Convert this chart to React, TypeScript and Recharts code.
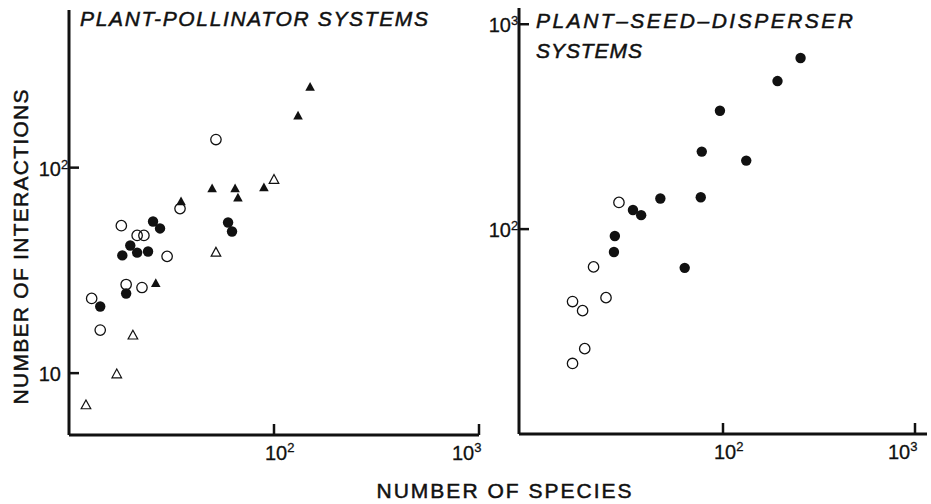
import { FC } from "react";
import { ScatterChart, Scatter, XAxis, YAxis } from "recharts";

// number of species (s) vs number of interactions (i)
const pollFilledCircles = [
  { s: 25.7, i: 54.7 }, { s: 27.8, i: 50.6 }, { s: 59.7, i: 54.1 }, { s: 62.4, i: 48.9 },
  { s: 19.9, i: 41.8 }, { s: 18.2, i: 37.4 }, { s: 21.5, i: 38.6 }, { s: 24.3, i: 39.1 },
  { s: 19.0, i: 24.4 }, { s: 14.2, i: 21.1 },
];
const pollOpenCircles = [
  { s: 52.1, i: 137 }, { s: 34.8, i: 63.2 }, { s: 18.0, i: 52.2 }, { s: 21.5, i: 46.8 },
  { s: 23.2, i: 46.8 }, { s: 30.1, i: 37.0 }, { s: 19.0, i: 27.0 }, { s: 22.7, i: 26.1 },
  { s: 12.9, i: 23.1 }, { s: 14.2, i: 16.2 },
];
const pollFilledTriangles = [
  { s: 150, i: 247 }, { s: 131, i: 179 }, { s: 49.9, i: 79.1 }, { s: 64.6, i: 79.1 },
  { s: 66.7, i: 71.4 }, { s: 89.3, i: 80.0 }, { s: 35.2, i: 68.4 }, { s: 26.5, i: 27.4 },
];
const pollOpenTriangles = [
  { s: 100, i: 87.5 }, { s: 52.1, i: 38.7 }, { s: 20.5, i: 15.3 }, { s: 17.1, i: 9.9 },
  { s: 12.1, i: 7.0 },
];

const dispFilledCircles = [
  { s: 240, i: 684 }, { s: 185, i: 528 }, { s: 96.6, i: 378 }, { s: 78.7, i: 239 },
  { s: 130, i: 216 }, { s: 77.8, i: 143 }, { s: 49.3, i: 141 }, { s: 36.2, i: 124 },
  { s: 39.7, i: 117 }, { s: 29.5, i: 92.5 }, { s: 29.2, i: 77.3 }, { s: 64.9, i: 64.7 },
];
const dispOpenCircles = [
  { s: 30.9, i: 135 }, { s: 23.2, i: 65.4 }, { s: 26.7, i: 46.3 }, { s: 18.3, i: 44.3 },
  { s: 20.5, i: 40.0 }, { s: 21.0, i: 26.1 }, { s: 18.3, i: 22.1 },
];

const xTicks = [100, 1000];
const pollYTicks = [10, 100];
const dispYTicks = [100, 1000];

const FONT = "'Liberation Sans', Arial, sans-serif";
const INK = "#111";

const FilledCircle = (p: any) => <circle cx={p.cx} cy={p.cy} r={5.2} fill={INK} />;
const OpenCircle = (p: any) => (
  <circle cx={p.cx} cy={p.cy} r={5.2} fill="none" stroke={INK} strokeWidth={1.3} />
);
const triPoints = (cx: number, cy: number) =>
  `${cx},${cy - 5} ${cx + 4.8},${cy + 3.8} ${cx - 4.8},${cy + 3.8}`;
const FilledTriangle = (p: any) => <polygon points={triPoints(p.cx, p.cy)} fill={INK} />;
const OpenTriangle = (p: any) => (
  <polygon points={triPoints(p.cx, p.cy)} fill="none" stroke={INK} strokeWidth={1.2} />
);

// x, y arrive at the axis line (tickSize/tickMargin 0); tick marks point inward
const XTick = (props: any) => {
  const { x, y, payload } = props;
  const exp = Math.round(Math.log10(payload.value));
  const start = payload.value >= 1000 ? x - 27 : x - 9;
  return (
    <g>
      <line x1={x} y1={y} x2={x} y2={y - 11} stroke={INK} strokeWidth={2.5} />
      <text x={start} y={y + 25} fontSize={20} fontFamily={FONT} fill={INK} stroke={INK} strokeWidth={0.3}>
        10
        <tspan dy={-8} fontSize={13}>{exp}</tspan>
      </text>
    </g>
  );
};

const YTick = (props: any) => {
  const { x, y, payload } = props;
  const exp = Math.round(Math.log10(payload.value));
  return (
    <g>
      <line x1={x} y1={y} x2={x + 10} y2={y} stroke={INK} strokeWidth={2.5} />
      <g fontFamily={FONT} fill={INK} stroke={INK} strokeWidth={0.3}>
        <text x={x - 8} y={y + 8} fontSize={20} textAnchor="end">
          10
        </text>
        {exp > 1 && (
          <text x={x - 8} y={y + 1} fontSize={13}>
            {exp}
          </text>
        )}
      </g>
    </g>
  );
};

const axisLine = { stroke: INK, strokeWidth: 3 };

const App: FC = () => {
  return (
    <div style={{ position: "absolute", left: 0, top: 0, width: 931, height: 504, background: "#fff" }}>
      {/* titles, placed underneath the (transparent) charts */}
      <svg
        width={931}
        height={504}
        style={{ position: "absolute", left: 0, top: 0, pointerEvents: "none" }}
        fontFamily={FONT}
        fill={INK}
        stroke={INK}
        strokeWidth={0.5}
      >
        <text x={80} y={26} fontSize={21} fontStyle="italic" textLength={348} lengthAdjust="spacing">
          PLANT-POLLINATOR  SYSTEMS
        </text>
        <text x={536} y={28} fontSize={21} fontStyle="italic" textLength={317} lengthAdjust="spacing">
          PLANT–SEED–DISPERSER
        </text>
        <text x={536} y={58} fontSize={21} fontStyle="italic" textLength={106} lengthAdjust="spacing">
          SYSTEMS
        </text>
        <text
          x={0}
          y={0}
          fontSize={21}
          textAnchor="middle"
          textLength={315}
          lengthAdjust="spacing"
          transform="translate(28, 247) rotate(-90)"
        >
          NUMBER OF INTERACTIONS
        </text>
        <text x={504} y={498} fontSize={21} textAnchor="middle" textLength={255} lengthAdjust="spacing">
          NUMBER OF SPECIES
        </text>
      </svg>
      <div style={{ position: "absolute", left: 475, top: 0 }}>
        <ScatterChart width={456} height={504} margin={{ top: 8, left: 43, right: 4, bottom: 69 }}>
          <XAxis
            type="number"
            dataKey="s"
            scale="log"
            domain={[10, 1000]}
            ticks={xTicks}
            height={1}
            tickSize={0}
            tickMargin={0}
            tickLine={false}
            axisLine={axisLine}
            tick={<XTick />}
          />
          <YAxis
            type="number"
            dataKey="i"
            scale="log"
            domain={[10, 1200]}
            ticks={dispYTicks}
            width={1}
            tickSize={0}
            tickMargin={0}
            tickLine={false}
            axisLine={axisLine}
            tick={<YTick />}
          />
          <Scatter data={dispOpenCircles} shape={<OpenCircle />} isAnimationActive={false} />
          <Scatter data={dispFilledCircles} shape={<FilledCircle />} isAnimationActive={false} />
        </ScatterChart>
      </div>
      <div style={{ position: "absolute", left: 0, top: 0 }}>
        <ScatterChart width={495} height={504} margin={{ top: 10, left: 68, right: 16, bottom: 68 }}>
          <XAxis
            type="number"
            dataKey="s"
            scale="log"
            domain={[10, 1000]}
            ticks={xTicks}
            height={1}
            tickSize={0}
            tickMargin={0}
            tickLine={false}
            axisLine={axisLine}
            tick={<XTick />}
          />
          <YAxis
            type="number"
            dataKey="i"
            scale="log"
            domain={[5, 585]}
            ticks={pollYTicks}
            width={1}
            tickSize={0}
            tickMargin={0}
            tickLine={false}
            axisLine={axisLine}
            tick={<YTick />}
          />
          <Scatter data={pollOpenCircles} shape={<OpenCircle />} isAnimationActive={false} />
          <Scatter data={pollOpenTriangles} shape={<OpenTriangle />} isAnimationActive={false} />
          <Scatter data={pollFilledCircles} shape={<FilledCircle />} isAnimationActive={false} />
          <Scatter data={pollFilledTriangles} shape={<FilledTriangle />} isAnimationActive={false} />
        </ScatterChart>
      </div>
    </div>
  );
};

export default App;
